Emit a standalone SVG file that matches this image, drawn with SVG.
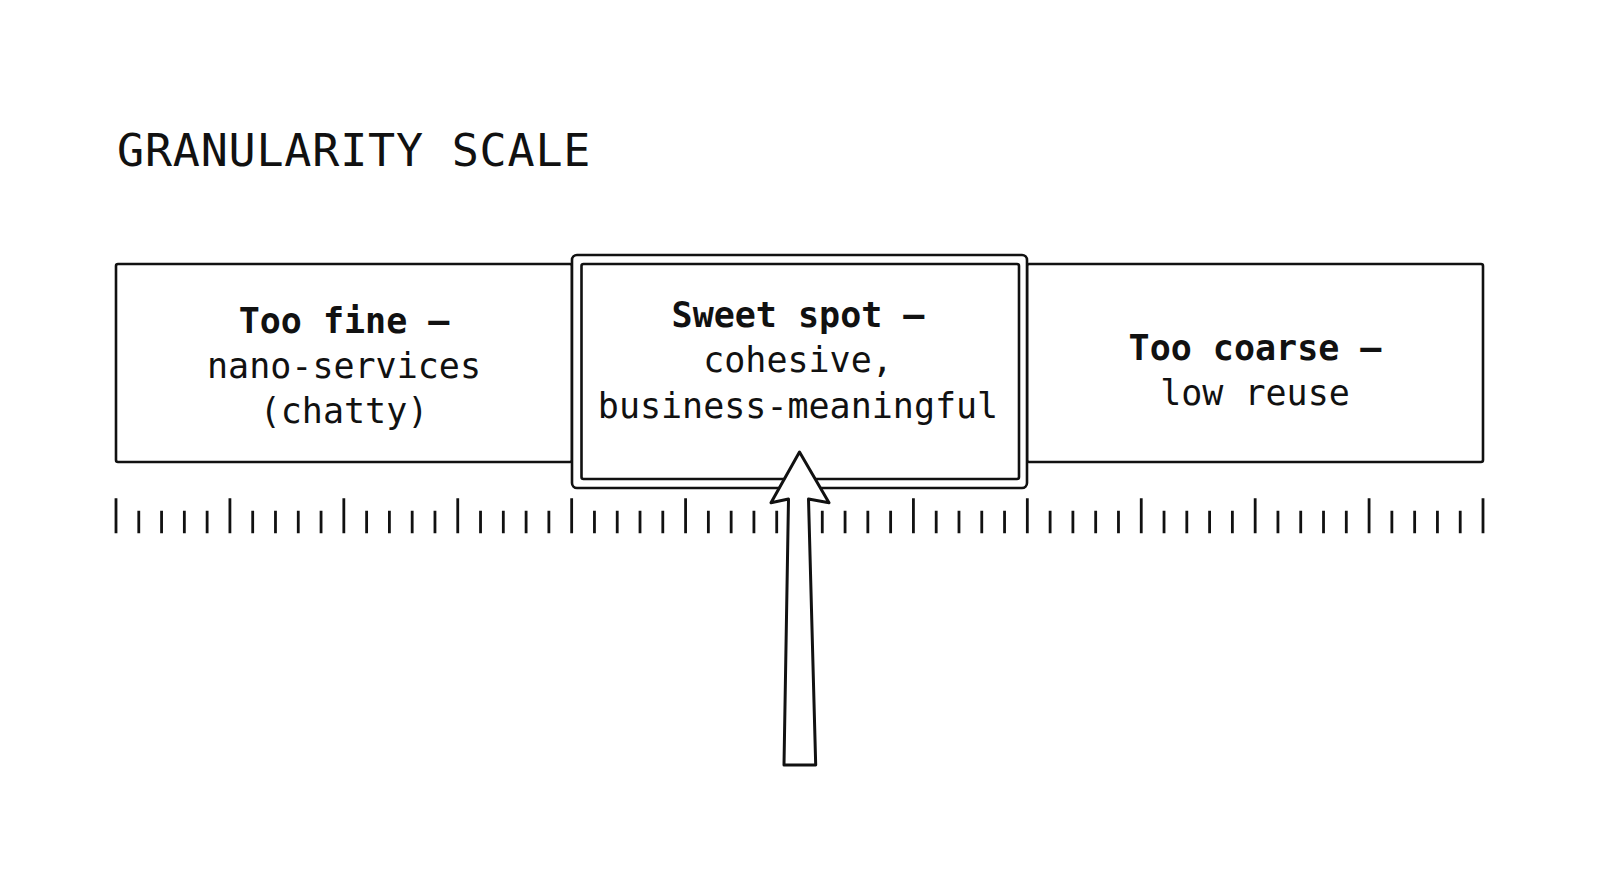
<svg xmlns="http://www.w3.org/2000/svg" width="1600" height="873" viewBox="0 0 1600 873">
<style>
  .box { fill: #ffffff; stroke: #111111; stroke-width: 2.6; }
  .lbl { font-family: "DejaVu Sans Mono", "Liberation Mono", monospace; font-size: 35px; fill: #111111; text-anchor: middle; }
  .b { font-weight: bold; }
  .title { font-family: "DejaVu Sans Mono", "Liberation Mono", monospace; font-size: 45px; letter-spacing: 0.8px; fill: #111111; }
  .tick { stroke: #111111; stroke-width: 2.8; fill: none; }
  .arrow { fill: #ffffff; stroke: #111111; stroke-width: 3; stroke-linejoin: round; }
</style>
<rect width="1600" height="873" fill="#ffffff"/>

<g id="title">
  <text class="title" x="117" y="166">GRANULARITY SCALE</text>
</g>

<g id="node-fine">
  <rect class="box" x="116" y="264" width="456" height="198" rx="2"/>
  <text class="lbl b" x="344" y="333">Too fine —</text>
  <text class="lbl" x="344" y="378">nano-services</text>
  <text class="lbl" x="344" y="423">(chatty)</text>
</g>

<g id="node-coarse">
  <rect class="box" x="1027" y="264" width="456" height="198" rx="2"/>
  <text class="lbl b" x="1255" y="360">Too coarse —</text>
  <text class="lbl" x="1255" y="405">low reuse</text>
</g>

<g id="node-sweet">
  <rect class="box" x="572" y="255" width="455" height="233" rx="5"/>
  <rect class="box" x="581.5" y="264" width="437.5" height="215" rx="2"/>
  <text class="lbl b" x="798" y="327">Sweet spot —</text>
  <text class="lbl" x="798" y="372">cohesive,</text>
  <text class="lbl" x="798" y="418">business-meaningful</text>
</g>

<g id="scale">
  <path class="tick" d="M116 498.3V533.3 M229.92 498.3V533.3 M343.83 498.3V533.3 M457.75 498.3V533.3 M571.67 498.3V533.3 M685.58 498.3V533.3 M799.5 498.3V533.3 M913.42 498.3V533.3 M1027.33 498.3V533.3 M1141.25 498.3V533.3 M1255.17 498.3V533.3 M1369.08 498.3V533.3 M1483 498.3V533.3"/>
  <path class="tick" d="M138.78 510.7V533.3 M161.57 510.7V533.3 M184.35 510.7V533.3 M207.13 510.7V533.3
  M252.7 510.7V533.3 M275.48 510.7V533.3 M298.27 510.7V533.3 M321.05 510.7V533.3
  M366.62 510.7V533.3 M389.4 510.7V533.3 M412.18 510.7V533.3 M434.97 510.7V533.3
  M480.53 510.7V533.3 M503.32 510.7V533.3 M526.1 510.7V533.3 M548.88 510.7V533.3
  M594.45 510.7V533.3 M617.23 510.7V533.3 M640.02 510.7V533.3 M662.8 510.7V533.3
  M708.37 510.7V533.3 M731.15 510.7V533.3 M753.93 510.7V533.3 M776.72 510.7V533.3
  M822.28 510.7V533.3 M845.07 510.7V533.3 M867.85 510.7V533.3 M890.63 510.7V533.3
  M936.2 510.7V533.3 M958.98 510.7V533.3 M981.77 510.7V533.3 M1004.55 510.7V533.3
  M1050.12 510.7V533.3 M1072.9 510.7V533.3 M1095.68 510.7V533.3 M1118.47 510.7V533.3
  M1164.03 510.7V533.3 M1186.82 510.7V533.3 M1209.6 510.7V533.3 M1232.38 510.7V533.3
  M1277.95 510.7V533.3 M1300.73 510.7V533.3 M1323.52 510.7V533.3 M1346.3 510.7V533.3
  M1391.87 510.7V533.3 M1414.65 510.7V533.3 M1437.43 510.7V533.3 M1460.22 510.7V533.3"/>
</g>

<g id="connectors">
  <path class="arrow" d="M799.5 452 L829 502.7 L808.5 499 L815.7 765 L784 765 L788.5 499 L771 502.7 Z"/>
</g>
</svg>
